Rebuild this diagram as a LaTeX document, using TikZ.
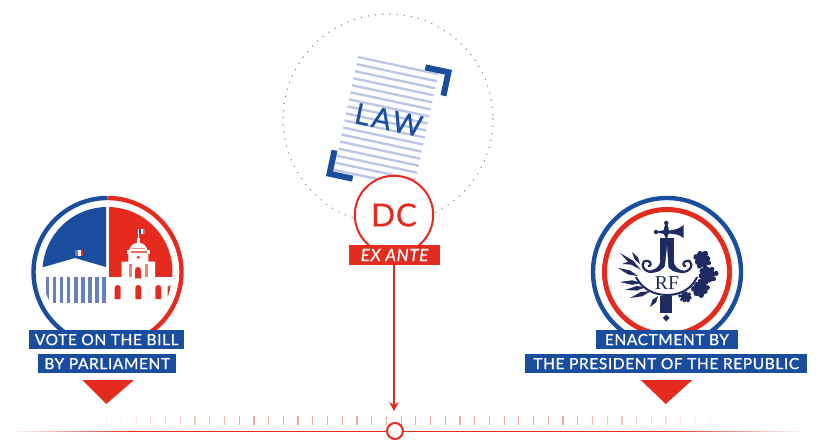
\documentclass[tikz,border=0pt]{standalone}
\usepackage{fontspec}
\setmainfont{Lato}
\newfontfamily\lblfont{Lato}[LetterSpace=4,FakeBold=0.7]
\newfontfamily\lawfont{Lato}[LetterSpace=9,FakeBold=0.5]
\newfontfamily\dcfont{Lato}[LetterSpace=2,FakeBold=0.3]
\newfontfamily\rffont{Liberation Serif}
\usetikzlibrary{arrows.meta,calc}
\definecolor{cblue}{HTML}{1B4D9E}
\definecolor{cred}{HTML}{E52A1E}
\definecolor{cnavy}{HTML}{1F2A62}
\definecolor{cbars}{HTML}{6580C0}
\definecolor{cline}{HTML}{BCC6E6}
\definecolor{cpink}{HTML}{F4A79C}
\definecolor{cdots}{HTML}{7F8CA3}
\newcommand{\lawsize}[1]{\fontsize{#1}{#1}\selectfont}
% oak leaf: centre, turn, scale
\newcommand{\oakleaf}[3]{%
  \begin{scope}[shift={#1},rotate=#2,scale=#3]
    \fill (0,0) ellipse[x radius=6.5,y radius=3.4];
    \foreach \u/\r in {-3/2.2,1/2.4,4.5/1.9} {\fill (\u,-3.7) circle[radius=\r]; \fill (\u,3.7) circle[radius=\r];}
    \fill (7,0) circle[radius=2];
  \end{scope}}
% palm frond: root, tip, half width
\newcommand{\palmleaf}[3]{\fill #1 -- ($#1!0.45!#2!#3!90:#2$) -- #2 -- ($#1!0.45!#2!#3!-90:#2$) -- cycle;}
\tikzset{
  bluelabel/.style={fill=cblue,text=white,minimum height=4.85mm,font=\lblfont\lawsize{11pt}},
  redmark/.style={circle,draw=cred,fill=white,line width=0.5mm},
  rednotch/.style={fill=cred},
}
\begin{document}
\begin{tikzpicture}[x=0.25mm,y=-0.25mm,line width=0.5mm,
  every node/.style={inner sep=0pt,outer sep=0pt}]
  \path[use as bounding box] (0,0) rectangle (817,440);  % source canvas 817x440, y runs down
  % ---- timeline: line and ticks fade out at both ends ----
  \foreach \s in {0,...,19} {
    \pgfmathsetmacro{\tint}{5*\s+5}
    \fill[cred!\tint!white] (15+6*\s,431) rectangle +(6.2,1.3);
    \fill[cred!\tint!white] (795-7*\s,431) rectangle +(7.2,1.3);
  }
  \fill[cred] (135,431) rectangle (662,432.3);
  \foreach \i in {0,...,41} {
    \pgfmathsetmacro{\tint}{min(100,12+min(\i,41-\i)*9)}
    \draw[cpink!\tint!white,line width=0.3mm] (106.7+14.72*\i,416) -- (106.7+14.72*\i,425);
  }
  % ---- left badge ----
  \draw[cblue,line width=1.1mm] (107.5,346) arc[start angle=90,end angle=270,radius=74];
  \draw[cred,line width=1.1mm] (107.5,198) arc[start angle=-90,end angle=90,radius=74];
  \begin{scope}
    \clip (107.5,272) circle[radius=65];
    \fill[cblue] (106,200) -- (106,267) -- (75,258) -- (35,269.5) -- (35,200) -- cycle;
    \fill[cred] (109,200) rectangle (180,277.3);
    \foreach \x in {0,...,8} \fill[cbars] (45.5+7.1*\x,277) rectangle +(3.6,26);
    \foreach \x in {117.7,138.3,158.3} \fill[cred] (\x-3,299) -- (\x-3,288) arc[start angle=180,end angle=360,radius=3] -- (\x+3,299) -- cycle;
    \fill[cred] (167.5,299) -- (167.5,287) -- (170.5,285) -- (170,299) -- cycle;
  \end{scope}
  % dome and flags
  \fill[white] (121.7,278.3) -- (121.7,261.7) -- (128.3,261.7) -- (128.3,253) -- (148.3,253) -- (148.3,261.7) -- (155,261.7) -- (155,278.3) -- cycle;
  \fill[white] (129,252) arc[start angle=180,end angle=360,radius=9.3] -- cycle;
  \fill[white] (127,250.5) rectangle (149.5,254);
  \fill[white] (136.8,238) rectangle (139.8,244);
  \fill[cred!70!white] (130.5,251) rectangle (146.5,252.6);
  \fill[cred!55!white] (132,248) rectangle (145,249.5);
  \fill[cred!60!white] (128.5,264) rectangle +(3,13);
  \fill[cred!60!white] (145,264) rectangle +(3,13);
  \fill[cred] (135,278.3) -- (135,270) arc[start angle=180,end angle=360,radius=3] -- (141,278.3) -- cycle;
  \fill[cred] (138.3,257.3) circle[radius=1.6];
  \draw[white,line width=0.25mm] (138.3,240) -- (138.3,229);
  \fill[cblue] (138.6,229.3) rectangle +(2.2,4.7);
  \fill[white] (140.8,229.3) rectangle +(2.2,4.7);
  \fill[cred!75!white] (143,229.3) rectangle +(2.2,4.7);
  \fill[cbars] (75,250) rectangle +(2.8,5.7);
  \fill[white] (77.8,250) rectangle +(2.8,5.7);
  \fill[cred] (80.6,250) rectangle +(2.8,5.7);
  % ---- document ----
  \draw[cdots,line width=0.38mm,line cap=round,dash pattern=on 0pt off 1.8mm] (388,119) circle[radius=105];
  \begin{scope}[shift={(389,123)},rotate=-12]
    \foreach \v in {0,...,16} \draw[cline,line width=0.6mm] (-44,-58+7.2*\v) -- (38,-58+7.2*\v);
    \fill[cblue] (24,-65) -- (50.6,-65) -- (50.6,-38) -- (44.6,-38) -- (44.6,-59) -- (24,-59) -- cycle;
    \fill[cblue] (-50.6,38) -- (-50.6,65) -- (-24,65) -- (-24,59) -- (-44.6,59) -- (-44.6,38) -- cycle;
    \node[text=cblue,rotate=-12,font=\lawfont\lawsize{20.5pt}] (lawmark) at (-1,-3) {LAW};
  \end{scope}
  % ---- DC marker ----
  \node[redmark,minimum size=19.6mm,text=cred,font=\dcfont\lawsize{22.5pt}] (dcmark) at (394,215) {DC};
  \node[fill=cred,text=white,minimum width=22.75mm,minimum height=5mm,font=\lblfont\itshape\lawsize{12pt}] (exante) at (394.5,255) {EX ANTE};
  \node[redmark,minimum size=4mm] (tlmark) at (395,431) {};
  \coordinate (arrowend) at (394,411);
  \draw[cred,line width=0.45mm,-{Stealth[length=2.2mm,width=2.4mm]}] (exante.south -| arrowend) -- (arrowend);
  % ---- right badge ----
  \draw[cblue,line width=1.1mm] (667,272) circle[radius=74];
  \draw[cred,line width=1.25mm] (667,272) circle[radius=62.5];
  \begin{scope}[cnavy]
    % cross and blade
    \fill (660.3,238) rectangle (673.7,262);
    \fill (666.3,221.5) -- (668.5,228) -- (668.5,230) -- (675,232) -- (668.5,234) -- (666.3,240) -- (664,234) -- (655,232) -- (664,230) -- (664,228) -- cycle;
    \foreach \x/\y in {666.3/223,656/232} \fill (\x,\y) circle[radius=2.2];
    \fill (671,230) .. controls (676,230) and (680,228) .. (683.5,225) -- (683.5,238) .. controls (680,235) and (676,234) .. (671,234) -- cycle;
    % split legs of the column, running out into the curls
    \fill (660.3,260) .. controls (660,268) and (654,270) .. (648,271) -- (649,273) .. controls (658,273) and (664,270) .. (666,263) .. controls (668,270) and (675,273) .. (684,273) -- (685,271) .. controls (679,270) and (674,268) .. (673.7,260) -- cycle;
    \fill[white] (667,246) -- (664.6,270) -- (668.6,270) -- cycle;
    \draw[line width=0.55mm] (650,272) .. controls (640,270) and (641,259) .. (648,261) .. controls (652,262) and (651,267) .. (648,266);
    \draw[line width=0.55mm] (684,272) .. controls (694,270) and (693,259) .. (686,261) .. controls (682,262) and (683,267) .. (686,266);
    % cradle
    \draw[line width=0.5mm] (636,277) .. controls (644,293) and (660,295) .. (667,295) .. controls (674,295) and (690,293) .. (697,277);
    % lower column and foot
    \fill (660.3,296) rectangle (672,313);
    \fill (666.3,314.5) -- (669.5,318) -- (666.3,321.5) -- (663,318) -- cycle;
    \node[text=cnavy,font=\rffont\lawsize{14pt}] (rfmark) at (667,283.5) {RF};
    % palm side
    \palmleaf{(641,270)}{(620,253)}{1.6pt}
    \palmleaf{(638,276)}{(618,268)}{1.6pt}
    \palmleaf{(642,283)}{(620,282)}{1.6pt}
    \palmleaf{(646,287)}{(625,290)}{1.6pt}
    \palmleaf{(651,291)}{(630,298)}{1.6pt}
    \palmleaf{(658,296)}{(650,307)}{1.6pt}
    \palmleaf{(640,264)}{(632,252)}{1.4pt}
    \palmleaf{(636,262)}{(622,264)}{1.2pt}
    % oak side
    \oakleaf{(702,259)}{-70}{1.3}
    \oakleaf{(707,275)}{10}{1.3}
    \oakleaf{(700,289)}{50}{1.3}
    \oakleaf{(686,297)}{170}{0.9}
  \end{scope}
  % ---- labels ----
  \node[bluelabel,minimum width=38.6mm] (votelab) at (106.7,339.6) {VOTE ON THE BILL};
  \node[bluelabel,minimum width=34.4mm] (parllab) at (107.2,363.6) {BY PARLIAMENT};
  \fill[rednotch] (82.3,380) -- (134,380) -- (106.3,404) -- cycle;
  \node[bluelabel,minimum width=35.6mm] (enaclab) at (666.9,339.6) {ENACTMENT BY};
  \node[bluelabel,minimum width=70.6mm] (preslab) at (666.2,363.6) {THE PRESIDENT OF THE REPUBLIC};
  \fill[rednotch] (640.7,380) -- (692.3,380) -- (665.7,404) -- cycle;
\end{tikzpicture}
\end{document}
